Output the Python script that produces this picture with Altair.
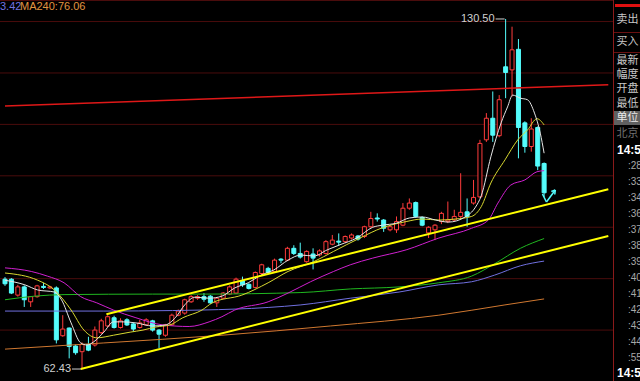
import altair as alt
import pandas as pd

# ---------------- data ----------------
opens = [79.9, 79.9, 76.8, 78.4, 75.5, 76.5, 78.5, 78.2, 78.2, 68.9,
         70.4, 66.9, 65.8, 67.2, 67.1, 69.5, 70.8, 72.4, 70.5, 72.0,
         71.2, 70.5, 71.0, 71.8, 70.0, 69.0, 71.0, 72.9, 73.3, 75.5,
         76.2, 76.5, 76.6, 75.3, 76.2, 77.0, 77.2, 79.6, 78.9, 78.3,
         81.0, 82.0, 81.4, 83.8, 83.6, 85.9, 84.9, 83.3, 84.8, 84.6,
         84.9, 86.7, 87.3, 87.2, 87.9, 88.3, 88.2, 90.1, 91.8, 91.4,
         89.5, 89.5, 90.4, 93.7, 94.8, 91.9, 88.9, 89.5, 91.1, 91.1,
         91.4, 92.1, 93.0, 94.7, 95.9, 107.0, 111.2, 107.8, 121.2, 120.6,
         124.6, 110.3, 105.7, 109.4, 102.4]
highs = [80.3, 80.1, 78.8, 78.7, 76.6, 78.8, 79.2, 78.6, 78.5, 72.9,
         70.5, 67.2, 67.6, 68.7, 70.7, 72.2, 72.9, 72.8, 72.3, 72.3,
         71.4, 72.0, 72.3, 72.0, 70.2, 71.2, 73.2, 74.0, 76.1, 76.8,
         76.8, 77.2, 76.8, 76.4, 77.4, 78.7, 80.2, 80.4, 79.1, 81.4,
         82.9, 82.3, 83.9, 84.0, 86.2, 86.5, 87.0, 85.5, 85.9, 85.7,
         87.5, 88.5, 88.8, 88.4, 88.8, 88.5, 90.3, 93.0, 92.7, 91.6,
         90.4, 92.1, 94.7, 95.6, 95.0, 92.1, 90.2, 90.6, 93.0, 95.0,
         93.4, 100.5, 95.6, 99.2, 107.0, 112.2, 116.4, 115.7, 130.5, 129.0,
         126.6, 110.6, 111.2, 109.6, 102.6]
lows = [78.6, 77.0, 76.5, 74.5, 74.5, 76.3, 78.0, 78.0, 67.4, 68.7,
        64.5, 65.2, 62.43, 65.9, 66.8, 69.2, 70.5, 70.3, 70.3, 70.8,
        69.7, 70.3, 70.8, 69.7, 66.5, 68.7, 70.8, 72.7, 73.0, 75.3,
        75.9, 75.5, 75.1, 74.5, 76.0, 76.8, 77.0, 78.4, 77.9, 78.1,
        80.8, 80.9, 81.1, 83.0, 83.4, 84.6, 83.9, 83.1, 81.8, 84.3,
        84.7, 86.5, 86.4, 86.9, 87.6, 87.4, 87.9, 89.9, 91.1, 89.1,
        89.2, 88.9, 90.2, 93.4, 91.8, 90.2, 87.9, 87.5, 90.6, 90.8,
        91.2, 91.8, 90.1, 94.4, 95.7, 106.6, 106.6, 107.5, 115.1, 115.4,
        103.4, 104.5, 104.7, 101.1, 95.9]
closes = [79.0, 77.2, 78.4, 75.9, 76.5, 78.6, 78.3, 78.4, 68.1, 70.2,
          66.8, 65.6, 67.2, 66.1, 70.0, 71.8, 72.6, 70.5, 71.8, 71.0,
          70.2, 71.4, 72.0, 70.0, 69.2, 71.0, 72.9, 73.7, 75.9, 76.5,
          76.5, 76.0, 75.3, 76.2, 77.2, 78.4, 79.9, 78.8, 78.1, 81.2,
          82.7, 81.2, 83.6, 83.6, 85.9, 84.9, 84.2, 85.3, 84.0, 85.4,
          87.2, 87.5, 87.1, 88.2, 88.5, 87.7, 90.1, 91.7, 91.6, 89.8,
          90.1, 91.1, 93.7, 94.7, 92.1, 90.4, 90.0, 90.4, 92.7, 91.4,
          92.1, 92.9, 92.1, 95.8, 106.3, 111.2, 107.9, 114.8, 120.1, 124.5,
          109.4, 105.7, 109.1, 101.9, 96.7]

# moving averages (candle index, price)
ma5_idx = [0, 3.1, 5.1, 7.7, 8.8, 10.3, 11.8, 12.8, 13.8, 15.4, 16.9, 18.4, 20.4, 23.0,
           25.0, 26.6, 28.0, 29.6, 31.8, 33.8, 35.8, 37.9, 39.9, 41.9, 44.1, 46.1, 48.1,
           50.2, 52.2, 54.8, 57.3, 58.8, 61.0, 63.0, 65.0, 67.1, 69.1, 71.7, 73.3, 74.2,
           75.7, 77.3, 78.3, 79.1, 80.3, 81.4, 82.5, 83.4, 84.0]
ma5_val = [79.7, 78.8, 77.8, 77.4, 75.9, 71.4, 67.5, 67.1, 67.7, 69.6, 71.6, 71.6, 71.4, 70.8,
           71.0, 72.5, 74.9, 76.4, 76.2, 76.6, 78.2, 79.2, 80.7, 81.7, 83.6, 84.6, 84.4,
           85.6, 86.6, 87.9, 90.0, 90.4, 90.8, 91.8, 92.0, 91.4, 91.0, 92.0, 93.9, 96.1,
           103.7, 110.3, 113.4, 115.7, 115.1, 114.8, 112.2, 108.3, 104.4]
ma10_idx = [0, 5.1, 7.7, 10.3, 12.3, 14.3, 16.9, 19.5, 21.5, 23.5, 25.7, 27.7, 30.7, 32.3,
            36.9, 41.0, 44.1, 48.1, 51.2, 55.3, 58.8, 62.5, 65.0, 67.6, 70.2, 72.7, 74.2,
            75.7, 77.9, 79.9, 81.4, 82.9, 84.0]
ma10_val = [81.1, 79.7, 77.8, 73.9, 70.0, 68.5, 69.0, 69.6, 70.0, 70.6, 71.0, 72.4, 73.9, 75.3,
            76.8, 79.2, 81.4, 83.3, 85.3, 87.9, 89.9, 91.1, 91.6, 91.4, 91.6, 92.1, 94.0,
            98.6, 103.1, 107.0, 108.9, 111.1, 109.9]
ma20_idx = [0, 4.1, 6.6, 9.2, 11.8, 14.3, 16.9, 20.4, 24.6, 28.7, 31.8, 33.8, 35.8, 41.0,
            44.1, 47.6, 51.2, 53.8, 57.3, 62.5, 67.6, 72.7, 75.3, 76.8, 78.8, 81.0, 82.9, 84.0]
ma20_val = [82.1, 81.4, 80.5, 79.2, 76.5, 75.3, 73.9, 72.4, 71.0, 70.7, 71.6, 72.6, 73.9, 75.5,
            77.2, 79.4, 81.4, 82.7, 84.0, 85.6, 87.9, 89.8, 91.4, 94.7, 98.2, 99.2, 100.8, 101.0]
ma60_idx = [0, 4.6, 9.2, 23.0, 30.7, 46.1, 53.8, 61.4, 67.6, 72.7, 76.3, 80.3, 84.0]
ma60_val = [75.9, 76.6, 76.9, 77.0, 77.0, 77.3, 78.0, 78.4, 79.2, 80.5, 82.9, 85.9, 87.8]
ma120_idx = [0, 15.4, 26.1, 30.7, 41.0, 46.1, 53.8, 61.4, 67.6, 72.7, 76.3, 80.3, 84.0]
ma120_val = [73.7, 73.7, 73.8, 73.9, 74.4, 74.9, 76.2, 77.4, 78.8, 79.4, 80.7, 82.5, 83.42]
ma240_idx = [0, 15.4, 33.8, 50.7, 67.6, 77.9, 84.0]
ma240_val = [66.3, 67.5, 69.0, 70.8, 72.9, 74.9, 76.06]

# user-drawn trend lines (candle index, price)
upper_idx = [15.8, 94.0]
upper_val = [73.07, 97.38]
lower_idx = [11.8, 94.0]
lower_val = [62.43, 88.30]
red_idx = [0, 94.0]
red_val = [113.58, 117.72]

# small cyan arrow drawn after the last candle: segments (i, v) -> (i2, v2)
arrow_i = [84.36, 84.36, 85.74, 85.74]
arrow_v = [94.91, 94.91, 97.24, 97.24]
arrow_i2 = [83.74, 85.74, 85.12, 85.66]
arrow_v2 = [96.46, 97.24, 96.95, 96.37]

grid_levels = [70, 80, 90, 100, 110, 120, 130]

legend_texts = ["3.42", "MA240:76.06"]
panel_labels = ["卖出", "买入", "最新", "幅度", "开盘", "最低", "单位", "北京"]
time_labels = [":28", ":33", ":34", ":36", ":37", ":38", ":39", ":40", ":41", ":42",
               ":43", ":44", ":55"]
time_head = "14:57"
time_tail = "14:52"

# ---------------- layout / style ----------------
W, H = 640, 381
STEP = 6.52
PANEL_X = 613.5
RED = "#ff3c3c"
CYAN = "#54fcfc"
GRID = "#4a0c0c"

xs = alt.Scale(domain=[0, W / STEP], nice=False, zero=False)
ys = alt.Scale(domain=[60.10, 134.19], nice=False, zero=False)


def X(f):
    return alt.X(f, type="quantitative", scale=xs, axis=None)


def Y(f):
    return alt.Y(f, type="quantitative", scale=ys, axis=None)


n = len(opens)
cdf = pd.DataFrame({"i": list(range(n)), "o": opens, "h": highs, "l": lows, "c": closes})
up = cdf[cdf["c"] >= cdf["o"]]
down = cdf[cdf["c"] < cdf["o"]]

one = pd.DataFrame({"a": [0]})
layers = []

# grid and frame
layers.append(alt.Chart(pd.DataFrame({"level": grid_levels})).mark_rule(color=GRID, strokeWidth=1)
              .encode(y=Y("level"), x=alt.value(0), x2=alt.value(PANEL_X)))
layers.append(alt.Chart(one).mark_rule(color=GRID, strokeWidth=1)
              .encode(y=alt.value(0.5), x=alt.value(0), x2=alt.value(PANEL_X)))

# candles
layers.append(alt.Chart(up).mark_rule(color=RED, strokeWidth=1)
              .encode(x=X("i"), y=Y("l"), y2=alt.Y2("h")))
layers.append(alt.Chart(down).mark_rule(color=CYAN, strokeWidth=1)
              .encode(x=X("i"), y=Y("l"), y2=alt.Y2("h")))
layers.append(alt.Chart(up).mark_bar(size=4, fill="#000000", fillOpacity=1, stroke=RED, strokeWidth=1)
              .encode(x=X("i"), y=Y("o"), y2=alt.Y2("c")))
layers.append(alt.Chart(down).mark_bar(size=4, fill=CYAN, fillOpacity=1, stroke=CYAN, strokeWidth=1)
              .encode(x=X("i"), y=Y("o"), y2=alt.Y2("c")))

# moving averages
for idx, val, col in [(ma240_idx, ma240_val, "#d07830"),
                      (ma120_idx, ma120_val, "#7070e0"),
                      (ma60_idx, ma60_val, "#20b820"),
                      (ma20_idx, ma20_val, "#d020d0"),
                      (ma10_idx, ma10_val, "#d8d830"),
                      (ma5_idx, ma5_val, "#e6e6e6")]:
    df = pd.DataFrame({"i": idx, "v": val})
    layers.append(alt.Chart(df).mark_line(color=col, strokeWidth=1, interpolate="monotone")
                  .encode(x=X("i"), y=Y("v"), order="i:Q"))

# trend lines
layers.append(alt.Chart(pd.DataFrame({"i": red_idx, "v": red_val}))
              .mark_line(color="#e01818", strokeWidth=1.5).encode(x=X("i"), y=Y("v")))
for idx, val in [(upper_idx, upper_val), (lower_idx, lower_val)]:
    layers.append(alt.Chart(pd.DataFrame({"i": idx, "v": val}))
                  .mark_line(color="#ffff00", strokeWidth=2).encode(x=X("i"), y=Y("v")))

# cyan arrow
adf = pd.DataFrame({"i": arrow_i, "v": arrow_v, "i2": arrow_i2, "v2": arrow_v2})
layers.append(alt.Chart(adf).mark_rule(color=CYAN, strokeWidth=1.5)
              .encode(x=X("i"), y=Y("v"), x2=alt.X2("i2"), y2=alt.Y2("v2")))

# high / low labels
hi = cdf.loc[[cdf["h"].idxmax()]].assign(t=lambda d: d["h"].map(lambda v: f"{v:.2f}"))
lo = cdf.loc[[cdf["l"].idxmin()]].assign(t=lambda d: d["l"].map(lambda v: f"{v:.2f}"))
for d, yf in [(hi, "h"), (lo, "l")]:
    layers.append(alt.Chart(d).mark_text(align="right", baseline="middle", dx=-11, fontSize=11,
                                         font="Liberation Sans", color="#d0d0d0")
                  .encode(x=X("i"), y=Y(yf), text="t:N"))
    layers.append(alt.Chart(d).mark_rule(color="#d0d0d0", strokeWidth=1, xOffset=-10, x2Offset=-1)
                  .encode(x=X("i"), x2=alt.X2("i"), y=Y(yf)))

# legend text at top
layers.append(alt.Chart(pd.DataFrame({"t": [legend_texts[0]]}))
              .mark_text(align="left", baseline="middle", fontSize=11, font="Liberation Sans", color="#7474e0")
              .encode(text="t:N", x=alt.value(0), y=alt.value(7)))
layers.append(alt.Chart(pd.DataFrame({"t": [legend_texts[1]]}))
              .mark_text(align="left", baseline="middle", fontSize=11, font="Liberation Sans", color="#e09440")
              .encode(text="t:N", x=alt.value(20), y=alt.value(7)))

# right info panel
layers.append(alt.Chart(one).mark_rule(color="#8a1a1a", strokeWidth=1)
              .encode(x=alt.value(PANEL_X), y=alt.value(0), y2=alt.value(H)))
layers.append(alt.Chart(one).mark_rule(color="#e01010", strokeWidth=3)
              .encode(y=alt.value(5.5), x=alt.value(615), x2=alt.value(W)))
for sy in [32.5, 52.5]:
    layers.append(alt.Chart(one).mark_rule(color="#6a1010", strokeWidth=1)
                  .encode(y=alt.value(sy), x=alt.value(614), x2=alt.value(W)))
layers.append(alt.Chart(one).mark_rect(color="#606060")
              .encode(x=alt.value(614), x2=alt.value(W), y=alt.value(111), y2=alt.value(125)))

label_y = [20, 42, 61, 75, 89, 104, 118, 134]
label_col = ["#c8c8c8"] * 6 + ["#e8e8e8", "#707070"]
for t, py, col in zip(panel_labels, label_y, label_col):
    layers.append(alt.Chart(pd.DataFrame({"t": [t]}))
                  .mark_text(align="left", baseline="middle", fontSize=11, font="Noto Sans CJK SC", color=col)
                  .encode(text="t:N", x=alt.value(616.5), y=alt.value(py)))

tdf = pd.DataFrame({"t": time_labels, "k": list(range(len(time_labels)))})
layers.append(alt.Chart(tdf).transform_calculate(py="166 + 16.0 * datum.k")
              .mark_text(align="left", baseline="middle", fontSize=10, font="Liberation Sans", color="#a8a8a8")
              .encode(text="t:N", x=alt.value(628), y=alt.Y("py:Q", scale=None)))
for t, py in [(time_head, 150), (time_tail, 373)]:
    layers.append(alt.Chart(pd.DataFrame({"t": [t]}))
                  .mark_text(align="left", baseline="middle", fontSize=12, fontWeight="bold",
                             font="Liberation Sans", color="#ffffff")
                  .encode(text="t:N", x=alt.value(617), y=alt.value(py)))

chart = alt.layer(*layers).properties(
    width=W, height=H, background="#000000", padding=0,
    autosize=alt.AutoSizeParams(type="none"),
).configure_view(strokeWidth=0)

chart.save("out.html", embed_options={"renderer": "svg", "actions": False})
